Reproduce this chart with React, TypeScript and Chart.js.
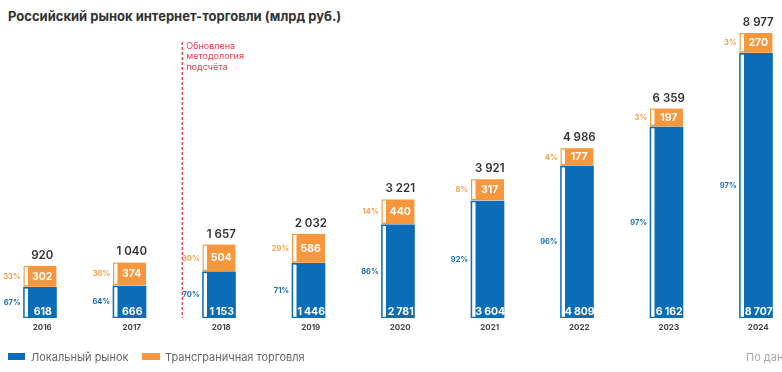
import React, { useEffect, useRef } from "react";
import { Chart, registerables } from "chart.js";

Chart.register(...registerables);

const years = ["2016", "2017", "2018", "2019", "2020", "2021", "2022", "2023", "2024"];
const localMarket = [618, 666, 1153, 1446, 2781, 3604, 4809, 6162, 8707];
const crossBorder = [302, 374, 504, 586, 440, 317, 177, 197, 270];
const totals = [920, 1040, 1657, 2032, 3221, 3921, 4986, 6359, 8977];
const localPct = [67, 64, 70, 71, 86, 92, 96, 97, 97];
const crossPct = [33, 36, 30, 29, 14, 8, 4, 3, 3];
const seriesNames = ["Локальный рынок", "Трансграничная торговля"];
const methodNote = ["Обновлена", "методология", "подсчёта"];
// the reference gives every segment a minimum visual height (in data units)
const SEGMENT_FLOOR = 440;

const BLUE = "#0b6db8";
const ORANGE = "#f8963b";
const ORANGE_TXT = "#f7a04e";
const BLUE_TXT = "#1a6fb5";
const RED = "#f0384a";
const FONT = "Inter, 'Noto Sans', sans-serif";

const groups = (v: number) => String(v).replace(/\B(?=(\d{3})+(?!\d))/g, " ").split(" ");

// draws a number with thousands groups separated by a fixed gap, centred on x
function drawNumber(ctx: CanvasRenderingContext2D, v: number, x: number, y: number, gap: number) {
  const parts = groups(v);
  const widths = parts.map((p) => ctx.measureText(p).width);
  const total = widths.reduce((a, b) => a + b, 0) + gap * (parts.length - 1);
  let cx = x - total / 2;
  ctx.textAlign = "left";
  parts.forEach((p, k) => {
    ctx.fillText(p, cx, y);
    cx += widths[k] + gap;
  });
}

const STRIP = 4.5;

const labelsPlugin = {
  id: "labels",
  afterDatasetsDraw(chart: any) {
    const ctx = chart.ctx;
    const m0 = chart.getDatasetMeta(0);
    const m1 = chart.getDatasetMeta(1);
    const xs = chart.scales.x;
    const area = chart.chartArea;
    ctx.save();
    // methodology divider
    const lx = xs.getPixelForValue(1.59);
    ctx.strokeStyle = RED;
    ctx.lineWidth = 1.3;
    ctx.setLineDash([3, 2]);
    ctx.beginPath();
    ctx.moveTo(lx, 42);
    ctx.lineTo(lx, area.bottom);
    ctx.stroke();
    ctx.setLineDash([]);
    ctx.fillStyle = RED;
    ctx.font = `400 9px ${FONT}`;
    ctx.textAlign = "left";
    ctx.textBaseline = "middle";
    methodNote.forEach((t, k) => ctx.fillText(t, lx + 4, 46 + k * 10.5));

    years.forEach((_, i) => {
      const b = m0.data[i];
      const o = m1.data[i];
      const left = b.x - b.width / 2;
      const right = b.x + b.width / 2;
      const fc = (left + STRIP + right) / 2;
      // white strips
      ctx.fillStyle = "#fff";
      ctx.fillRect(left + 1.2, b.y + 1.2, STRIP - 1.2, b.base - b.y - 2.4);
      ctx.fillRect(left + 1.2, o.y + 1.2, STRIP - 1.2, o.base - 1 - o.y - 2.4);
      // values inside
      ctx.fillStyle = "#fff";
      ctx.font = `700 10.5px ${FONT}`;
      ctx.textBaseline = "middle";
      drawNumber(ctx, crossBorder[i], fc, (o.y + o.base - 1) / 2 + 0.5, 2);
      ctx.textBaseline = "alphabetic";
      drawNumber(ctx, localMarket[i], fc + 0.5, b.base - 3.5, 2);
      // totals
      ctx.fillStyle = "#333";
      ctx.font = `600 11.5px ${FONT}`;
      drawNumber(ctx, totals[i], fc, o.y - 7, 3);
      // percentages
      ctx.font = `700 7.5px ${FONT}`;
      ctx.textAlign = "right";
      ctx.textBaseline = "middle";
      ctx.fillStyle = ORANGE_TXT;
      ctx.fillText(crossPct[i] + "%", left - 3, (o.y + o.base) / 2);
      ctx.fillStyle = BLUE_TXT;
      ctx.fillText(localPct[i] + "%", left - 3, (b.y + b.base) / 2);
    });
    ctx.restore();
  },
};

export default function App() {
  const ref = useRef<HTMLCanvasElement | null>(null);
  useEffect(() => {
    if (!ref.current) return;
    const chart = new Chart(ref.current, {
      type: "bar",
      data: {
        labels: years,
        datasets: [
          {
            label: seriesNames[0],
            data: localMarket.map((v) => v + SEGMENT_FLOOR),
            backgroundColor: BLUE,
            borderWidth: 0,
            barThickness: 33,
          },
          {
            label: seriesNames[1],
            data: crossBorder.map((v) => v + SEGMENT_FLOOR),
            backgroundColor: ORANGE,
            borderColor: "#fff",
            borderWidth: { top: 0, left: 0, right: 0, bottom: 1 },
            borderSkipped: false,
            barThickness: 33,
          },
        ],
      },
      options: {
        responsive: false,
        animation: false,
        devicePixelRatio: 1,
        layout: { padding: { left: 15.25, right: 79.25, top: 14.3, bottom: 34.4 } },
        plugins: { legend: { display: false }, tooltip: { enabled: false }, title: { display: false } },
        scales: {
          x: {
            stacked: true,
            grid: { display: false, drawTicks: false },
            border: { display: false },
            ticks: {
              font: { family: FONT, size: 8, weight: "bold" },
              color: "#444",
              padding: 5,
              labelOffset: 2.25,
              maxRotation: 0,
              autoSkip: false,
            },
          },
          y: { stacked: true, display: false, min: 0, max: 10500 },
        },
      },
      plugins: [labelsPlugin],
    } as any);
    return () => chart.destroy();
  }, []);

  return (
    <div style={{ position: "absolute", left: 0, top: 0, width: 782, height: 372, overflow: "hidden", background: "#fff", fontFamily: FONT }}>
      <div style={{ position: "absolute", left: 8, top: 8, fontSize: 13, lineHeight: "16px", fontWeight: 700, color: "#333", whiteSpace: "nowrap" }}>
        Российский рынок интернет-торговли (млрд руб.)
      </div>
      <canvas ref={ref} width={900} height={372} style={{ position: "absolute", left: -20, top: 0 }} />
      <div style={{ position: "absolute", left: 8, top: 353, width: 17, height: 7, background: BLUE }} />
      <div style={{ position: "absolute", left: 31, top: 349, fontSize: 11, lineHeight: "16px", color: "#666", whiteSpace: "nowrap" }}>{seriesNames[0]}</div>
      <div style={{ position: "absolute", left: 142, top: 353, width: 18, height: 7, background: ORANGE }} />
      <div style={{ position: "absolute", left: 165, top: 349, fontSize: 11, lineHeight: "16px", color: "#666", whiteSpace: "nowrap" }}>{seriesNames[1]}</div>
      <div style={{ position: "absolute", left: 746, top: 349, fontSize: 11, lineHeight: "16px", color: "#a9a9a9", whiteSpace: "nowrap" }}>По данным Data Insight</div>
    </div>
  );
}
